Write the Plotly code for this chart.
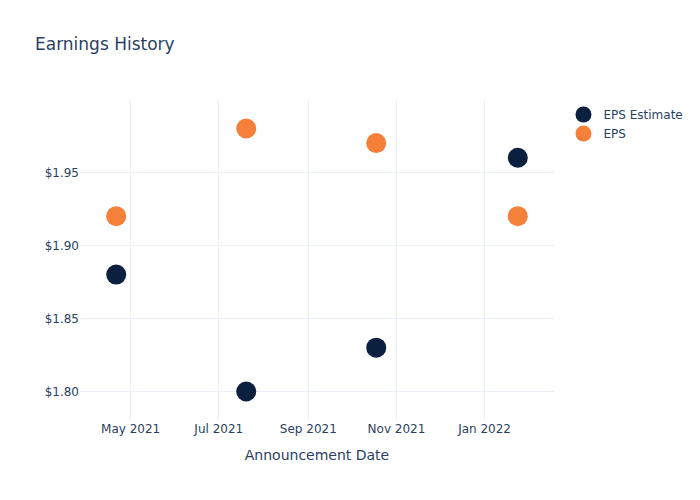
import plotly.graph_objects as go

dates = ["2021-04-21", "2021-07-20", "2021-10-18", "2022-01-24"]
eps_estimate = [1.88, 1.80, 1.83, 1.96]
eps_actual = [1.92, 1.98, 1.97, 1.92]

fig = go.Figure()
fig.add_trace(go.Scatter(x=dates, y=eps_estimate, mode="markers", name="EPS Estimate",
                         marker=dict(color="#0b1f3f", size=20)))
fig.add_trace(go.Scatter(x=dates, y=eps_actual, mode="markers", name="EPS",
                         marker=dict(color="#f5803a", size=20)))
fig.update_layout(
    template="plotly_white",
    width=700, height=500,
    title="Earnings History",
    xaxis=dict(title="Announcement Date"),
    yaxis=dict(tickprefix="$", tickformat=".2f"),
    font=dict(family="DejaVu Sans"),
)
fig.write_html("out.html")
